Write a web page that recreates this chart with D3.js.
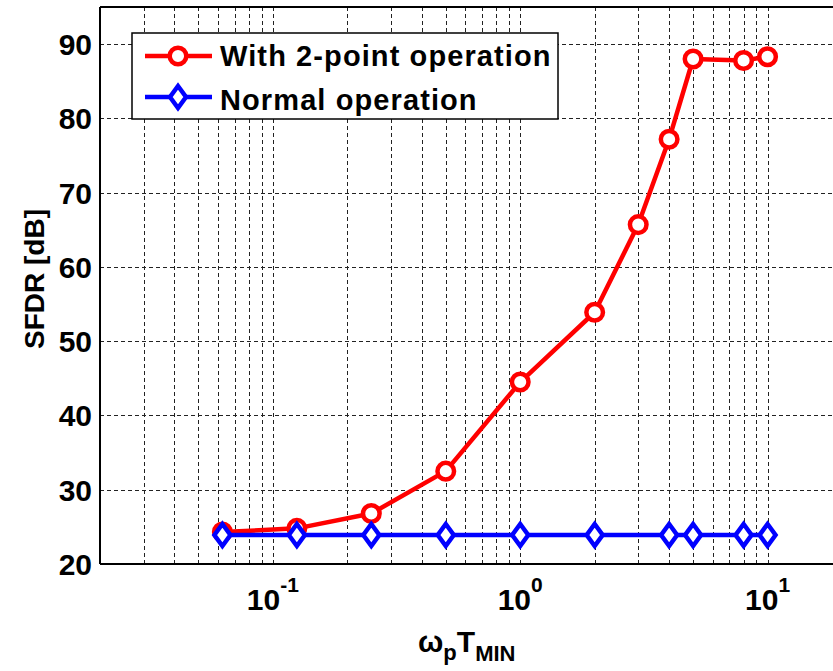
<!DOCTYPE html>
<html>
<head>
<meta charset="utf-8">
<script src="https://cdn.jsdelivr.net/npm/d3@7"></script>
<style>
  html, body { margin: 0; padding: 0; background: #fff; }
  svg { display: block; font-family: "Liberation Sans", Arial, sans-serif; font-weight: bold; }
</style>
</head>
<body>
<svg id="chart" width="833" height="671"></svg>
<script>
// SFDR versus normalised pole frequency
const xTwoPoint = [0.0625, 0.125, 0.25, 0.5, 1, 2, 3, 4, 5, 8, 10];
const sfdrTwoPoint = [24.3, 24.8, 26.8, 32.5, 44.5, 53.9, 65.7, 77.2, 88.0, 87.8, 88.3];
const xNormal = [0.0625, 0.125, 0.25, 0.5, 1, 2, 4, 5, 8, 10];
const sfdrNormal = [23.9, 23.9, 23.9, 23.9, 23.9, 23.9, 23.9, 23.9, 23.9, 23.9];
const yTicks = [20, 30, 40, 50, 60, 70, 80, 90];
const xMajor = [0.1, 1, 10];
const xMajorExp = ["-1", "0", "1"];
const seriesNames = ["With 2-point operation", "Normal operation"];

const svg = d3.select("#chart");
const m = { left: 100, top: 7, right: 842, bottom: 564 };

const x = d3.scaleLog().domain([0.02, 20]).range([m.left, m.right]);
const y = d3.scaleLinear().domain([20, 95]).range([m.bottom, m.top]);

// grid: every log minor tick on x, every labelled tick on y
const xGrid = [];
for (let d = 0.01; d <= 10; d *= 10) {
  for (let k = 1; k <= 9; k++) {
    const v = +(d * k).toPrecision(3);
    if (v > 0.02 && v < 20) xGrid.push(v);
  }
}
const grid = svg.append("g").attr("stroke", "#222").attr("stroke-width", 1)
  .attr("stroke-dasharray", "4,3").attr("fill", "none");
grid.selectAll("line.gx").data(xGrid).join("line")
  .attr("x1", d => Math.round(x(d)) + 0.5).attr("x2", d => Math.round(x(d)) + 0.5)
  .attr("y1", m.top).attr("y2", m.bottom);
grid.selectAll("line.gy").data(yTicks.slice(1)).join("line")
  .attr("x1", m.left).attr("x2", m.right)
  .attr("y1", d => Math.round(y(d)) + 0.5).attr("y2", d => Math.round(y(d)) + 0.5);

// axes frame
const frame = svg.append("g").attr("stroke", "#000").attr("stroke-width", 2);
frame.append("line").attr("x1", m.left).attr("x2", m.left).attr("y1", m.top).attr("y2", m.bottom);
frame.append("line").attr("x1", m.left).attr("x2", m.right).attr("y1", m.bottom).attr("y2", m.bottom);
frame.append("line").attr("x1", m.left).attr("x2", m.right).attr("y1", m.top).attr("y2", m.top);

// y axis labels
svg.append("g").selectAll("text").data(yTicks).join("text")
  .attr("x", 92).attr("y", d => y(d) + 11)
  .attr("text-anchor", "end").attr("font-size", 30)
  .text(d => d);

// x axis labels: 10 with superscript exponent
const xl = svg.append("g").selectAll("text").data(xMajor).join("text")
  .attr("x", d => x(d)).attr("y", 610)
  .attr("text-anchor", "middle").attr("font-size", 30);
xl.append("tspan").text("10");
xl.append("tspan").attr("dy", -18).attr("font-size", 21).text((d, i) => xMajorExp[i]);

// axis titles
svg.append("text")
  .attr("transform", "translate(44,279) rotate(-90)")
  .attr("text-anchor", "middle").attr("font-size", 28)
  .text("SFDR [dB]");
const xt = svg.append("text").attr("x", 418).attr("y", 652).attr("font-size", 30);
xt.append("tspan").text("ω");
xt.append("tspan").attr("dy", 8).attr("font-size", 22).text("p");
xt.append("tspan").attr("dy", -8).text("T");
xt.append("tspan").attr("dy", 9).attr("font-size", 22).text("MIN");

// series
const line = (xs) => d3.line().x((d, i) => x(xs[i])).y(d => y(d));
const diamond = "M0,-11L8,0L0,11L-8,0Z";

function drawSeries(xs, ys, color, kind) {
  const g = svg.append("g");
  g.append("path").datum(ys).attr("d", line(xs))
    .attr("fill", "none").attr("stroke", color).attr("stroke-width", 4.5)
    .attr("stroke-linejoin", "round");
  drawMarkers(g, xs.map((v, i) => [x(v), y(ys[i])]), color, kind);
}
function drawMarkers(g, pts, color, kind) {
  if (kind === "circle") {
    g.selectAll("circle").data(pts).join("circle")
      .attr("cx", d => d[0]).attr("cy", d => d[1]).attr("r", 8.3)
      .attr("fill", "#fff").attr("stroke", color).attr("stroke-width", 4.5);
  } else {
    g.selectAll("path.mk").data(pts).join("path").attr("class", "mk")
      .attr("transform", d => `translate(${d[0]},${d[1]})`).attr("d", diamond)
      .attr("fill", "#fff").attr("stroke", color).attr("stroke-width", 4.5)
      .attr("stroke-linejoin", "miter");
  }
}
drawSeries(xTwoPoint, sfdrTwoPoint, "#ff0000", "circle");
drawSeries(xNormal, sfdrNormal, "#0000ff", "diamond");

// legend
const lg = svg.append("g");
lg.append("rect").attr("x", 132).attr("y", 33).attr("width", 426).attr("height", 86)
  .attr("fill", "#fff").attr("stroke", "#000").attr("stroke-width", 1.5);
const legendItems = [
  { name: seriesNames[0], color: "#ff0000", kind: "circle", ly: 56, ty: 66 },
  { name: seriesNames[1], color: "#0000ff", kind: "diamond", ly: 97, ty: 110 }
];
legendItems.forEach(it => {
  lg.append("line").attr("x1", 145).attr("x2", 212).attr("y1", it.ly).attr("y2", it.ly)
    .attr("stroke", it.color).attr("stroke-width", 4.5);
  drawMarkers(lg.append("g"), [[178, it.ly]], it.color, it.kind);
  lg.append("text").attr("x", 220).attr("y", it.ty).attr("font-size", 29)
    .attr("letter-spacing", 1.1).text(it.name);
});
</script>
</body>
</html>
